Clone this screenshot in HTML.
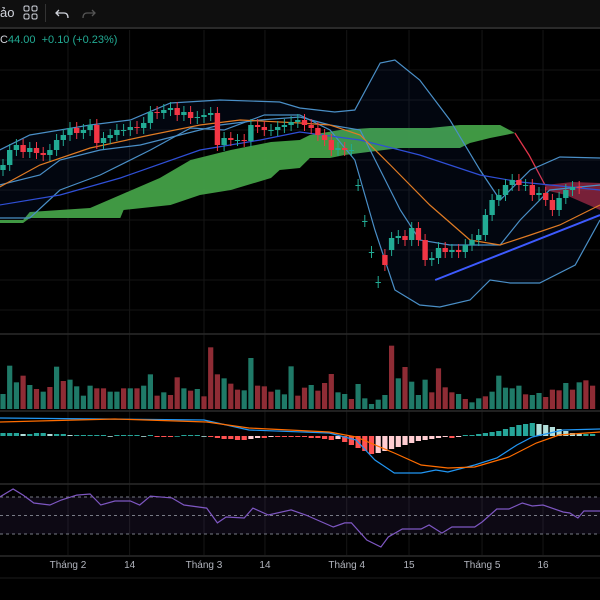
<!DOCTYPE html>
<html><head><meta charset="utf-8">
<style>
html,body{margin:0;padding:0;background:#000;width:600px;height:600px;overflow:hidden;font-family:"Liberation Sans",sans-serif;}
#wrap{position:relative;width:600px;height:600px;}
#toolbar{position:absolute;left:0;top:0;width:600px;height:27px;background:#0f0f0f;border-bottom:2px solid #2a2a2a;}
.tb{position:absolute;color:#d1d4dc;font-size:13px;top:5px;}
#legend{position:absolute;left:0;top:34px;font-size:11px;color:#22ab94;}
svg{position:absolute;left:0;top:0;}
.ax{fill:#b2b5be;font-size:10px;font-family:"Liberation Sans",sans-serif;}
</style></head><body>
<div id="wrap">
<div id="toolbar">
  <span class="tb" style="left:0">ảo</span>
  <svg width="16" height="16" style="left:23px;top:5px"><rect x="1" y="1" width="5" height="5" rx="1.5" fill="none" stroke="#d1d4dc"/><rect x="9" y="1" width="5" height="5" rx="1.5" fill="none" stroke="#d1d4dc"/><rect x="1" y="9" width="5" height="5" rx="1.5" fill="none" stroke="#d1d4dc"/><rect x="9" y="9" width="5" height="5" rx="1.5" fill="none" stroke="#d1d4dc"/></svg>
  <div style="position:absolute;left:45px;top:4px;width:1px;height:18px;background:#333"></div>
  <svg width="16" height="16" style="left:55px;top:6px"><path d="M4 4 L1 7 L4 10 M1 7 H9 Q13 7 13 12" fill="none" stroke="#d1d4dc" stroke-width="1.3"/></svg>
  <svg width="16" height="16" style="left:80px;top:6px"><path d="M12 4 L15 7 L12 10 M15 7 H7 Q3 7 3 12" fill="none" stroke="#555" stroke-width="1.3"/></svg>
</div>
<svg id="chart" width="600" height="600"></svg>
<div id="legend"><span style="color:#d1d4dc">C</span>44.00&nbsp; +0.10 (+0.23%)</div>
</div>
<script>
const closes=[49,52,53,51.6,52.4,51.4,51,52,54,55,56.4,55.4,56,57,53.4,54.4,55,56,56,56.6,56.4,57.4,59.6,59.4,60,60.4,59,59.6,58.4,58.6,59,59.4,53,54.4,54,54,53.8,57,56.6,56,56,56.6,57,57.6,58,57,56.4,55,54,52,52.4,52,52,45,37.8,31.6,25.6,29,34.4,34.8,34,36.4,34,30,30.4,32.4,31.6,32,31.6,33,34,35,39,42,43,45,46,45,45,43,43.4,42,40,42.4,44,44.6,44.4];
const openOverride={0:48,53:45,54:37.8,55:31.6,56:25.6,57:31,58:32};
const volumes=[45,130,80,100,72,60,52,66,127,84,88,68,40,70,62,62,52,52,62,62,62,70,104,40,50,42,95,62,55,60,38,185,104,92,76,58,56,153,70,68,52,58,44,128,40,64,72,55,78,105,50,45,30,75,32,15,28,42,190,92,126,82,42,88,50,122,65,50,45,30,20,32,38,52,100,64,62,70,44,42,48,36,58,56,78,58,80,86,70];
const volUp=[1,1,1,0,1,0,1,0,1,0,1,1,1,1,0,0,1,1,0,1,0,1,1,0,1,0,0,1,0,1,0,0,0,1,0,0,1,1,0,0,0,1,1,1,0,0,1,0,0,0,1,1,0,1,1,1,1,1,0,1,0,1,1,1,0,0,0,0,1,0,1,1,0,1,1,1,1,1,0,1,1,0,0,0,1,0,1,0,0];
const bbUpper=[[-0.5,52],[4,55],[13,57],[19,58],[25,61.4],[32.4,62],[41.3,61.6],[44.3,60.4],[49.5,59.6],[52.5,60],[56.3,69.4],[58.5,70],[62.2,66],[66.7,58],[71.2,48],[74.2,42],[78.7,48],[83.1,50.6],[89.1,50.4]];
const bbLower=[[-0.5,38.4],[4,38.4],[8.5,44],[14.5,47],[22,52],[28,56.4],[33,56],[39,59],[44.3,59],[48.8,56],[52.5,50],[55.5,36],[58.5,24],[62.2,21],[65.2,20.6],[69.7,22],[72.7,26],[75.7,25.4],[80.1,25.4],[85.4,29],[89.1,38]];
const bbBasis=[[-0.5,45],[5.5,47],[8.5,50],[14.5,52],[20.5,53],[26.4,55],[32.4,57],[38.4,58],[44.3,58.6],[48.8,57],[53.3,56],[56.3,48],[59.3,40],[62.2,34],[66.7,33],[71.2,33],[74.2,33],[77.2,38],[81.6,44],[89.1,45]];
const maOrange=[[-0.5,44.6],[5.5,49],[13,52.4],[22,55],[29.4,57],[35.4,58],[44.3,57.4],[48.8,57],[53.3,55],[57.8,49],[63.7,41],[69.7,34],[74.2,33],[78.7,35],[83.1,37],[89.1,41]];
const maLong=[[-0.5,41],[8.5,43],[17.5,46.4],[29.4,52],[38.4,54],[44.3,55.6],[53.3,54],[62.2,51],[71.2,47],[77.2,45.6],[89.1,44]];
const cloudTop=[[-0.5,38],[3,38],[4,39.6],[13,40.4],[17.5,43],[23.4,46.4],[28,50],[34,52],[40,53.6],[44.3,54],[45.8,55],[50.3,56],[54.8,56.4],[59.3,56.4],[63.7,56.4],[68.2,57],[74.2,57],[76.4,55.4]];
const cloudBottom=[[-0.5,37.4],[3,37.4],[4,38.4],[17.5,38.4],[18,40],[25,41],[29.4,43],[34,44],[40,46.4],[41.3,48],[44.3,48.4],[45.8,50.4],[48.8,50.4],[51,51],[59.3,52.4],[68.2,52.4],[69.7,53.4],[72.7,54.4],[76.4,55.4]];
const redLine=[[76.4,55.4],[78.5,51],[80.9,45]];
const redCloudTop=[[80.9,45],[85,45.6],[89.1,45.4]];
const redCloudBottom=[[80.9,44],[84,43],[89.1,40]];
const trendLine=[[64.5,26],[89.1,39]];
const macdLine=[[-0.5,1.8],[30,1.6],[36.7,0.6],[48.7,0.3],[52.7,-0.4],[55.5,-2.4],[58.4,-3.7],[62.4,-3.7],[64.6,-3.4],[66.4,-3.6],[70.4,-2.9],[73.7,-2.2],[76.7,-0.9],[79,-0.1],[83.6,0.6],[89.1,0.7]];
const signalLine=[[-0.5,1.4],[16.7,1.7],[30.4,1.4],[36.7,0.8],[48.7,0.4],[52.7,-0.1],[58.4,-1.7],[62.4,-2.9],[66.4,-3.2],[70.4,-3.1],[75.5,-2.1],[79.6,-0.7],[83,0.1],[89.1,0.4]];
const macdHist=[0.3,0.3,0.3,0.2,0.2,0.3,0.3,0.2,0.2,0.2,0.1,0.1,0.1,0.1,0.1,0.1,
0,0.1,0.1,0.1,0.1,0,0.1,-0.1,-0.1,-0.1,0,0.1,0.1,0.1,0,-0.1,-0.2,-0.3,-0.3,-0.4,
-0.4,-0.3,-0.2,-0.2,-0.1,-0.1,-0.1,-0.1,-0.1,-0.1,-0.2,-0.2,-0.3,-0.4,-0.3,-0.6,-0.9,-1.2,-1.5,-1.8,
-1.7,-1.5,-1.3,-1.1,-0.9,-0.7,-0.5,-0.4,-0.3,-0.2,-0.1,-0.2,-0.1,0.1,0.1,
0.2,0.3,0.4,0.5,0.7,0.9,1.1,1.2,1.3,1.2,1.1,0.9,0.7,0.5,0.3,0.2,0.2,0.2];
const rsiLine=[[-0.5,70],[1.5,78.6],[3,72],[4.6,63.5],[7,61.4],[8.7,66.8],[11,72],[13,73.2],[14.6,61.4],[16.7,65.7],[19,65.7],[20.4,61.4],[22,71],[25.2,69],[27,61.4],[30.4,58],[32,42],[33.3,48.4],[36,47.3],[37.3,58],[39.6,50.5],[43,56],[45.2,50.5],[49.3,37.6],[51,42],[52,42],[54.3,23.5],[56.4,16],[57.5,26.8],[59.6,35.4],[62.4,35.4],[63.6,39.7],[65.5,31],[67,37.6],[70.4,37.6],[71.5,43],[73.7,57],[75.5,57],[77.5,63.5],[79,60.3],[80.6,61.4],[83.6,53.8],[84.6,52.7],[85.8,47.3],[86.7,54.9],[89.1,54.9]];
const timeLabels=["Tháng 2","14","Tháng 3","14","Tháng 4","15","Tháng 5","16"];
const timeLabelBars=[9.7,18.9,30,39.1,51.3,60.6,71.5,80.6];
const rsiLevels=[70,50,30];

const NS="http://www.w3.org/2000/svg";
const svg=document.getElementById('chart');
const xB=i=>3+6.7*i;
const yP=p=>190-(p-44)*5;
const yV=v=>409-v/3;
const yM=m=>436-m*10;
const yR=r=>515.5-(r-50)*0.925;
function el(tag,attrs){const e=document.createElementNS(NS,tag);for(const k in attrs)e.setAttribute(k,attrs[k]);svg.appendChild(e);return e;}
function pts(arr,fy){return arr.map(p=>xB(p[0]).toFixed(1)+','+fy(p[1]).toFixed(1)).join(' ');}

for(let i=0;i<timeLabelBars.length;i++){
  const g=el('line',{x1:xB(timeLabelBars[i]),x2:xB(timeLabelBars[i]),y1:30,y2:555,stroke:'#161616'});
  
  
}
[70,100,130,160,190,220,250,280,310].forEach(y=>{
  const g=el('line',{x1:0,x2:600,y1:y,y2:y,stroke:'#141414'});
  
  
});
[334,411,484,556].forEach(y=>{
  const s=el('line',{x1:0,x2:600,y1:y,y2:y,stroke:'#2a2a2a','stroke-width':1.5});
  
  
});

const cl=el('polygon',{points:pts(cloudTop,yP)+' '+pts(cloudBottom.slice().reverse(),yP),fill:'#43a047',opacity:0.95});


const rc=el('polygon',{points:pts(redCloudTop,yP)+' '+pts(redCloudBottom.slice().reverse(),yP),fill:'#b2283f',opacity:0.7});


const rl=el('polyline',{points:pts(redLine,yP),fill:'none',stroke:'#e0344a','stroke-width':1.3});



const bf=el('polygon',{points:pts(bbUpper,yP)+' '+pts(bbLower.slice().reverse(),yP),fill:'#2962ff',opacity:0.06});


[[bbUpper,'bollinger-upper','#4a8fc7'],[bbLower,'bollinger-lower','#4a8fc7'],[bbBasis,'bollinger-basis','#4a8fc7'],[maLong,'ma-long','#2f4fd6'],[maOrange,'ma-orange','#e07b24']].forEach(s=>{
  const l=el('polyline',{points:pts(s[0],yP),fill:'none',stroke:s[2],'stroke-width':1.2});
  
  
});
const tl=el('polyline',{points:pts(trendLine,yP),fill:'none',stroke:'#3d5afe','stroke-width':2});



for(let i=0;i<closes.length;i++){
  const o=(i in openOverride)?openOverride[i]:closes[i-1];
  const c=closes[i];
  const up=c>=o;
  const col=up?'#22ab94':'#f23645';
  const hi=Math.max(o,c)+1.2, lo=Math.min(o,c)-1.2;
  const w=el('line',{x1:xB(i),x2:xB(i),y1:yP(hi),y2:yP(lo),stroke:col,'stroke-width':1});
  
  
  const top=yP(Math.max(o,c)), h=Math.max(1,Math.abs(yP(o)-yP(c)));
  const b=el('rect',{x:xB(i)-2.7,y:top,width:5.4,height:h,fill:col});
  
  
}

for(let i=0;i<volumes.length;i++){
  const r=el('rect',{x:xB(i)-2.6,y:yV(volumes[i]),width:5.2,height:409-yV(volumes[i]),fill:volUp[i]?'#1f7a68':'#8f2c35'});
  
  
}

for(let i=0;i<macdHist.length;i++){
  const v=macdHist[i], prev=i?macdHist[i-1]:0;
  let col;
  if(v>=0) col=v>=prev?'#26a69a':'#b2dfdb'; else col=v<=prev?'#ff5252':'#ffcdd2';
  const y0=yM(0), y1=yM(v);
  const r=el('rect',{x:xB(i)-2.6,y:Math.min(y0,y1),width:5.2,height:Math.max(0.8,Math.abs(y1-y0)),fill:col});
  
  
}
const ml=el('polyline',{points:pts(macdLine,yM),fill:'none',stroke:'#2196f3','stroke-width':1.2});


const sl=el('polyline',{points:pts(signalLine,yM),fill:'none',stroke:'#ff6d00','stroke-width':1.2});



const rb=el('rect',{x:0,y:yR(70),width:600,height:yR(30)-yR(70),fill:'#7e57c2',opacity:0.1});


rsiLevels.forEach(v=>{
  const d=el('line',{x1:0,x2:600,y1:yR(v),y2:yR(v),stroke:'#787b86','stroke-dasharray':'3,3','stroke-width':1});
  
  
});
const rl2=el('polyline',{points:pts(rsiLine,yR),fill:'none',stroke:'#7e57c2','stroke-width':1.2});



for(let i=0;i<timeLabels.length;i++){
  const t=el('text',{x:xB(timeLabelBars[i]),y:568,'text-anchor':'middle',class:'ax'});
  t.textContent=timeLabels[i];
  
  
}
const ab=el('line',{x1:0,x2:600,y1:578,y2:578,stroke:'#1c1c1c'});


</script>
</body></html>
